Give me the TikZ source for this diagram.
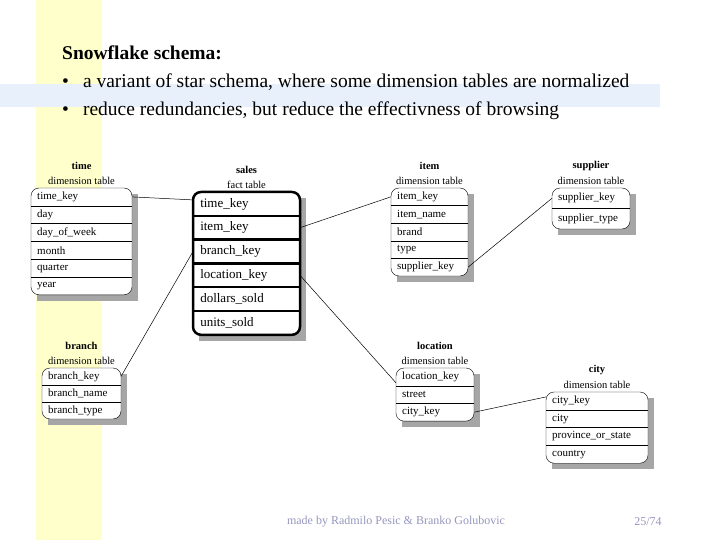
\documentclass[tikz,border=0pt]{standalone}
\usepackage{fontspec}
\setmainfont{Liberation Serif}
\usetikzlibrary{calc}
\definecolor{bandyellow}{RGB}{255,255,204}
\definecolor{bandblue}{RGB}{232,240,252}
\definecolor{footgray}{RGB}{150,150,190}
\tikzset{
  rowcell/.style={inner sep=0pt, anchor=west},
  tabtitle/.style={font=\fontsize{10.5}{12}\selectfont\bfseries},
  tabsub/.style={font=\fontsize{10.5}{12}\selectfont},
  link/.style={black, line width=0.5pt}
}
% #1 name, #2 title, #3 subtitle, #4 left, #5 top, #6 width, #7 row height, #8 rows, #9 style
\newcommand\dimtab[9]{%
  \foreach \r [count=\i] in {#8} {\xdef\nrows{\i}}
  \fill[gray!70] ({#4+6},{#5+6}) rectangle ({#4+#6+6},{#5+\nrows*#7+6});
  \fill[white, rounded corners=8pt] (#4,#5) rectangle ({#4+#6},{#5+\nrows*#7});
  \foreach \r [count=\i] in {#8} {
    \node[rowcell, #9] (#1-\i) at ({#4+6},{#5+(\i-0.5)*#7}) {\r};
    \coordinate (#1-\i-w) at ({#4},{#5+(\i-0.5)*#7});
    \coordinate (#1-\i-e) at ({#4+#6},{#5+(\i-0.5)*#7});
    \ifnum\i<\nrows
      \draw[#9] ({#4},{#5+\i*#7}) -- ({#4+#6},{#5+\i*#7});
    \fi
  }
  \draw[rounded corners=8pt, #9] (#4,#5) rectangle ({#4+#6},{#5+\nrows*#7});
  \node[tabsub] at ({#4+#6/2},{#5-7}) {#3};
  \node[tabtitle] at ({#4+#6/2},{#5-22}) {#2};
}
\begin{document}
\begin{tikzpicture}[x=1pt, y=-1pt, font=\fontsize{11}{13}\selectfont]
  \useasboundingbox (0,0) rectangle (720,540);
  % background bands
  \fill[bandyellow] (36,0) rectangle (102,540);
  \fill[bandblue] (0,84) rectangle (660,107);
  % heading
  \node[anchor=west, inner xsep=0pt, font=\fontsize{19.5}{22}\selectfont\bfseries] (head) at (62,53) {Snowflake schema:};
  \node[anchor=west, inner xsep=0pt, font=\fontsize{19.5}{22}\selectfont] (b1) at (62,82) {\textbullet\hspace{14pt}a variant of star schema, where some dimension tables are normalized};
  \node[anchor=west, inner xsep=0pt, font=\fontsize{19.5}{22}\selectfont] (b2) at (62,111) {\textbullet\hspace{14pt}reduce redundancies, but reduce the effectivness of browsing};
  % tables
  \dimtab{time}{time}{dimension table}{31}{188}{101}{17.8}{time\_key,day,day\_of\_week,month,quarter,year}{}
  \dimtab{sales}{sales}{fact table}{193}{192}{107}{23.8}{time\_key,item\_key,branch\_key,location\_key,dollars\_sold,units\_sold}{line width=2.5pt, font=\fontsize{13}{15}\selectfont}
  \dimtab{branch}{branch}{dimension table}{42}{368}{79}{17}{branch\_key,branch\_name,branch\_type}{}
  \dimtab{item}{item}{dimension table}{391}{188}{77}{17.6}{item\_key,item\_name,brand,type,supplier\_key}{}
  \dimtab{supplier}{supplier}{dimension table}{552}{188}{78}{20.5}{supplier\_key,supplier\_type}{}
  \dimtab{location}{location}{dimension table}{396}{368}{78}{17.7}{location\_key,street,city\_key}{}
  \dimtab{city}{city}{dimension table}{546}{392}{102}{17.8}{city\_key,city,province\_or\_state,country}{}
  % links
  \draw[link] (time-1-e) -- ($(sales-1-w)+(0,-4)$);
  \draw[link] (sales-2-e) -- (item-1-w);
  \draw[link] (sales-3-w) -- (branch-1-e);
  \draw[link] (sales-4-e) -- ($(location-1-w)+(0,6)$);
  \draw[link] (item-5-e) -- (supplier-1-w);
  \draw[link] (location-3-e) -- ($(city-1-w)+(0,-4)$);
  % footer
  \node[text=footgray, font=\fontsize{12}{14}\selectfont] (credit) at (396,522) {made by Radmilo Pesic \& Branko Golubovic};
  \node[text=footgray, font=\fontsize{12}{14}\selectfont] (page) at (648,522) {25/74};
\end{tikzpicture}
\end{document}
